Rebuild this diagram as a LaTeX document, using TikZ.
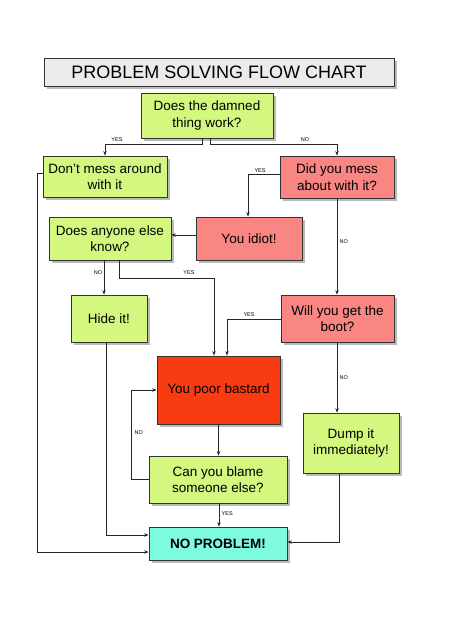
\documentclass[tikz,border=0pt]{standalone}
\usepackage{fontspec}
\setmainfont{Liberation Sans}
\usetikzlibrary{shadows,arrows.meta}
\definecolor{boxgreen}{HTML}{D4F77F}
\definecolor{boxpink}{HTML}{F98683}
\definecolor{boxred}{HTML}{F93B12}
\definecolor{boxcyan}{HTML}{7EFBDE}
\definecolor{titlegray}{HTML}{EBEBEB}
\definecolor{edgegray}{HTML}{333333}
\tikzset{
  box/.style={draw=edgegray, line width=0.7pt, inner sep=0pt, align=center,
    font=\fontsize{13.5}{16.5}\selectfont,
    drop shadow={shadow xshift=2.5pt, shadow yshift=-3pt, opacity=0.45, fill=black!60}},
  arr/.style={draw=black!85, line width=0.8pt, -{Stealth[length=4.5pt,width=3.5pt]}},
  lbl/.style={font=\fontsize{5.5}{6}\selectfont, inner sep=0.5pt}
}
\begin{document}
\begin{tikzpicture}[x=1pt,y=-1pt]
\useasboundingbox[fill=white] (0,0) rectangle (453,640);
% nodes
\node[box, fill=titlegray, minimum width=350, minimum height=28, font=\fontsize{18}{20}\selectfont] (title) at (219,72) {PROBLEM SOLVING FLOW CHART};
\node[box, fill=boxgreen, minimum width=132, minimum height=45] (q1) at (207,115.5) {Does the damned\\thing work?};
\node[box, fill=boxgreen, minimum width=124, minimum height=41] (dont) at (105,176.5) {Don’t mess around\\with it};
\node[box, fill=boxpink, minimum width=114, minimum height=42] (did) at (337,177) {Did you mess\\about with it?};
\node[box, fill=boxpink, minimum width=106, minimum height=43] (idiot) at (249,238.5) {You idiot!};
\node[box, fill=boxgreen, minimum width=122, minimum height=43] (anyone) at (110,238.5) {Does anyone else\\know?};
\node[box, fill=boxgreen, minimum width=76, minimum height=47] (hide) at (109,318.5) {Hide it!};
\node[box, fill=boxpink, minimum width=113, minimum height=47] (boot) at (337.5,318.5) {Will you get the\\boot?};
\node[box, fill=boxred, minimum width=123, minimum height=68] (poor) at (218.5,390) {You poor bastard};
\node[box, fill=boxgreen, minimum width=96, minimum height=60] (dump) at (351,443) {Dump it\\immediately!};
\node[box, fill=boxgreen, minimum width=138, minimum height=47] (blame) at (218,479.5) {Can you blame\\someone else?};
\node[box, fill=boxcyan, minimum width=138, minimum height=33, font=\fontsize{13.5}{16}\selectfont\bfseries] (noprob) at (218,543.5) {NO PROBLEM!};
% connectors
\draw[arr] ([xshift=-5]q1.south) -- ++(0,6) -| (dont.north);
\node[lbl] at (117,140) {YES};
\draw[arr] ([xshift=3]q1.south) -- ++(0,6) -| (did.north);
\node[lbl] at (305,140) {NO};
\draw[arr] ([yshift=3.5]dont.west) -- ++(-5,0) |- ([yshift=-8.5]noprob.west);
\draw[arr] ([yshift=3]did.west) -| ([xshift=-1]idiot.north);
\node[lbl] at (260,171) {YES};
\draw[arr] (did.south) -- (did.south |- boot.north);
\node[lbl, anchor=west] at (339,242) {NO};
\draw[arr] ([yshift=3.5]idiot.west) -- ([yshift=3.5]anyone.east);
\draw[arr] ([xshift=-6]anyone.south) -- ([xshift=-5]hide.north);
\node[lbl] at (98,273) {NO};
\draw[arr] ([xshift=9]anyone.south) -- ++(0,18) -| ([xshift=-4.5]poor.north);
\node[lbl] at (189,273) {YES};
\draw[arr] ([xshift=-3]hide.south) |- ([yshift=8.5]noprob.west);
\draw[arr] ([yshift=-0.5]boot.west) -| ([xshift=8.5]poor.north);
\node[lbl] at (249,315) {YES};
\draw[arr] ([xshift=-0.5]boot.south) -- ([xshift=-14]dump.north);
\node[lbl, anchor=west] at (339,378) {NO};
\draw[arr] (poor.south) -- (poor.south |- blame.north);
\draw[arr] ([yshift=0.5]blame.west) -- ++(-17,0) |- (poor.west);
\node[lbl, anchor=west] at (134,433) {NO};
\draw[arr] ([xshift=1]blame.south) -- ([xshift=1]noprob.north);
\node[lbl, anchor=west] at (221,514) {YES};
\draw[arr] ([xshift=-12]dump.south) |- ([yshift=1.5]noprob.east);
\end{tikzpicture}
\end{document}
